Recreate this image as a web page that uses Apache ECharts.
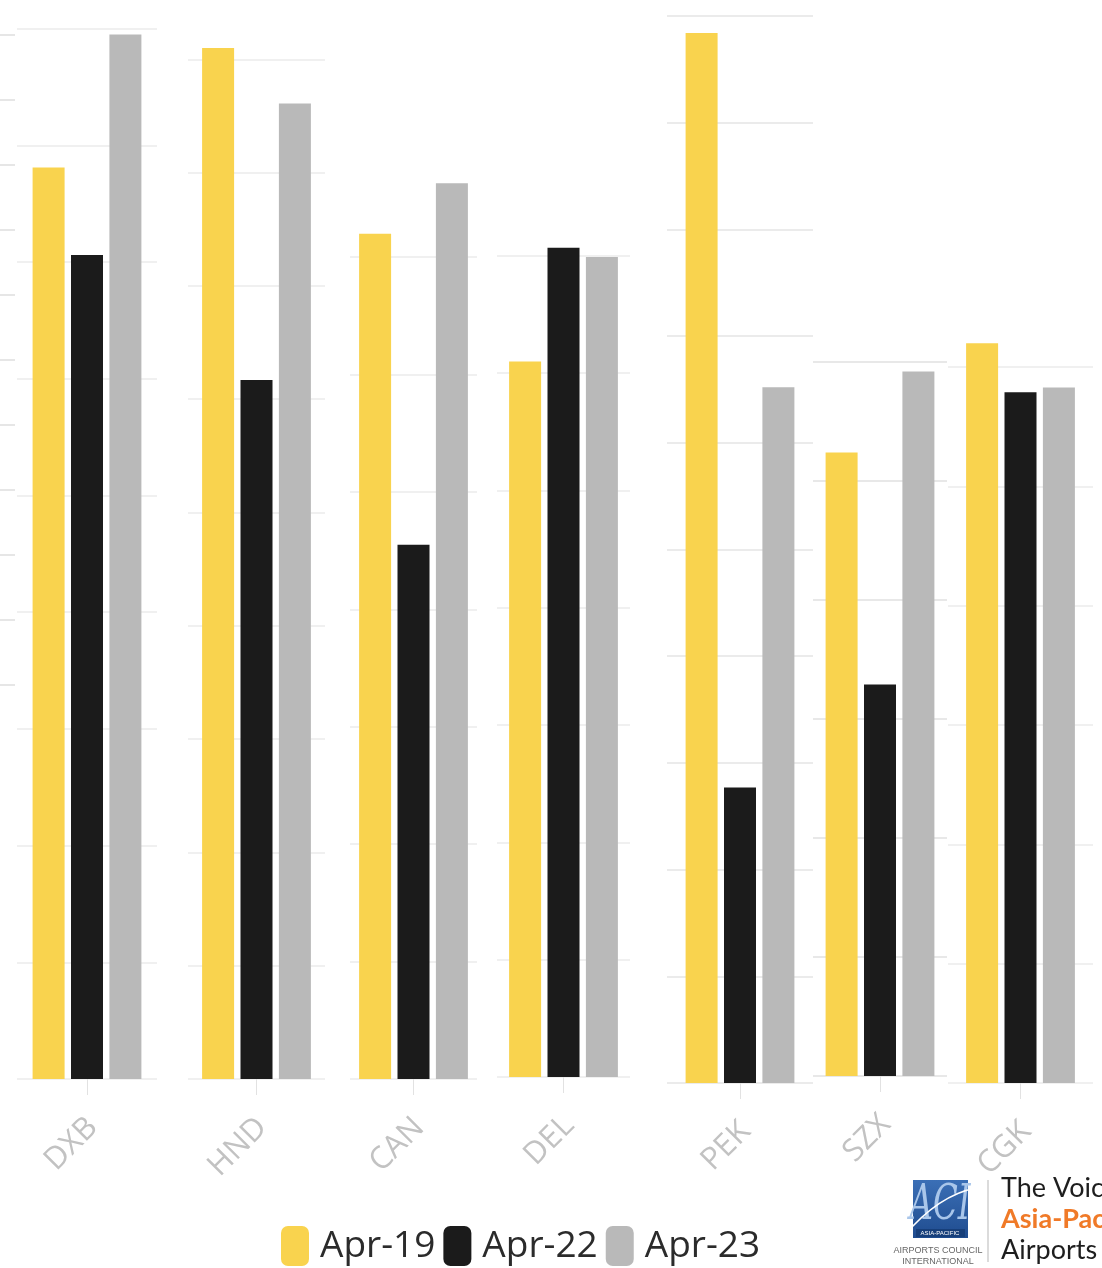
<!DOCTYPE html>
<html><head><meta charset="utf-8">
<script src="https://cdn.jsdelivr.net/npm/echarts@6/dist/echarts.min.js"></script>
<style>html,body{margin:0;padding:0;background:#fff}#c{width:1102px;height:1268px}</style>
</head><body><div id="c"></div>
<script>
// ---- data ----
const categories = ['DXB', 'HND', 'CAN', 'DEL', 'PEK', 'SZX', 'CGK'];
const seriesNames = ['Apr-19', 'Apr-22', 'Apr-23'];
const apr19 = [7.81, 9.10, 7.20, 6.10, 9.84, 5.24, 6.20];
const apr22 = [7.06, 6.17, 4.55, 7.07, 2.77, 3.29, 5.79];
const apr23 = [8.95, 8.61, 7.63, 6.99, 6.52, 5.92, 5.83];
const axisMax = [9, 9.2, 8, 7.2, 10, 6, 6.3];
const axisInterval = 1;

// ---- layout (one small panel per airport) ----
const panels = [
  { left: 17,  width: 140, base: 1079, step: 116.7, topLine: true,  lineW: 1.5 },
  { left: 188, width: 137, base: 1079, step: 113.3, topLine: false, lineW: 1.5 },
  { left: 350, width: 127, base: 1079, step: 117.4, topLine: false, lineW: 1.5 },
  { left: 497, width: 133, base: 1077, step: 117.3, topLine: false, lineW: 1.5 },
  { left: 667, width: 146, base: 1083, step: 106.7, topLine: true,  lineW: 2 },
  { left: 813, width: 134, base: 1076, step: 119.0, topLine: true,  lineW: 1.5 },
  { left: 948, width: 145, base: 1083, step: 119.3, topLine: false, lineW: 1.5 }
];
const colors = ['#f9d34e', '#1b1b1b', '#b9b9b9'];
const values = [apr19, apr22, apr23];

const grid = [], xAxis = [], yAxis = [], series = [];
panels.forEach((p, i) => {
  const h = axisMax[i] * p.step;
  grid.push({ left: p.left, width: p.width, top: p.base - h, height: h, containLabel: false });
  xAxis.push({
    type: 'category', gridIndex: i, data: [categories[i]],
    axisLine: { show: false },
    axisTick: { show: true, alignWithLabel: true, length: 16, lineStyle: { color: '#e2e2e2' } },
    axisLabel: { interval: 0, rotate: 45, margin: 38, fontSize: 31, lineHeight: 16, verticalAlign: 'top',
      fontFamily: 'Open Sans', color: '#c2c2c2' }
  });
  yAxis.push({
    type: 'value', gridIndex: i, min: 0, max: axisMax[i], interval: axisInterval,
    axisLabel: { show: false }, axisLine: { show: false }, axisTick: { show: false },
    splitLine: { show: true, showMinLine: true, showMaxLine: p.topLine,
      lineStyle: { color: i === 5 ? '#e0e0e0' : '#ebebeb', width: p.lineW } }
  });
  seriesNames.forEach((n, k) => {
    series.push({
      name: n, type: 'bar', xAxisIndex: i, yAxisIndex: i,
      data: [values[k][i]], barWidth: 32, barGap: '20%',
      itemStyle: { color: colors[k] }, silent: true
    });
  });
});

// faint partial panel at far left edge
grid.push({ left: 0, width: 15, top: 35, height: 650 });
xAxis.push({ type: 'category', gridIndex: 7, data: [''], show: false });
yAxis.push({ type: 'value', gridIndex: 7, min: 0, max: 10, interval: 1,
  axisLabel: { show: false }, axisLine: { show: false }, axisTick: { show: false },
  splitLine: { lineStyle: { color: '#dedede', width: 1.5 } } });

const chart = echarts.init(document.getElementById('c'), null, { renderer: 'canvas' });
chart.setOption({
  backgroundColor: '#ffffff',
  animation: false,
  grid, xAxis, yAxis, series,
  legend: {
    data: seriesNames, left: 276, top: 1221, icon: 'roundRect',
    itemWidth: 28, itemHeight: 40, itemGap: 8,
    textStyle: { fontSize: 37, fontFamily: 'Open Sans', color: '#2b2b2b', padding: [0, 0, 0, 6] }
  },
  graphic: [
    { type: 'rect', shape: { x: 913, y: 1180, width: 55, height: 58 },
      style: { fill: new echarts.graphic.LinearGradient(0, 0, 0, 1, [{ offset: 0, color: '#3b6fb6' }, { offset: 1, color: '#1f4c8f' }]) } },
    { type: 'text', x: 940, y: 1206, scaleY: 1.35, style: { text: 'ACI', fontSize: 36, fontFamily: 'DejaVu Serif Condensed', fontStyle: 'italic', fill: '#a9c6ea', align: 'center', verticalAlign: 'middle' } },
    { type: 'bezierCurve', shape: { x1: 904, y1: 1236, x2: 976, y2: 1188, cpx1: 930, cpy1: 1205, cpx2: 955, cpy2: 1192 },
      style: { stroke: '#ffffff', lineWidth: 1.5, fill: null } },
    { type: 'rect', shape: { x: 916, y: 1229, width: 49, height: 8 }, style: { fill: '#173f7a' } },
    { type: 'text', x: 940, y: 1233, style: { text: 'ASIA-PACIFIC', fontSize: 6, fontFamily: 'Liberation Sans', fill: '#ffffff', align: 'center', verticalAlign: 'middle' } },
    { type: 'text', x: 938, y: 1251, style: { text: 'AIRPORTS COUNCIL', fontSize: 9, fontFamily: 'Liberation Sans Narrow, Liberation Sans', fill: '#666', align: 'center', verticalAlign: 'middle' } },
    { type: 'text', x: 938, y: 1262, style: { text: 'INTERNATIONAL', fontSize: 9, fontFamily: 'Liberation Sans Narrow, Liberation Sans', fill: '#666', align: 'center', verticalAlign: 'middle' } },
    { type: 'line', shape: { x1: 988, y1: 1180, x2: 988, y2: 1262 }, style: { stroke: '#cfcfcf', lineWidth: 1.5 } },
    { type: 'text', x: 1001, y: 1188, style: { text: 'The Voice of', fontSize: 27, fontFamily: 'Lato', fill: '#1e1e1e', verticalAlign: 'middle' } },
    { type: 'text', x: 1001, y: 1219, style: { text: 'Asia-Pacific', fontSize: 27, fontWeight: 'bold', fontFamily: 'Lato', fill: '#f07a28', verticalAlign: 'middle' } },
    { type: 'text', x: 1001, y: 1250, style: { text: 'Airports', fontSize: 27, fontFamily: 'Lato', fill: '#1e1e1e', verticalAlign: 'middle' } }
  ]
});
</script>
</body></html>
